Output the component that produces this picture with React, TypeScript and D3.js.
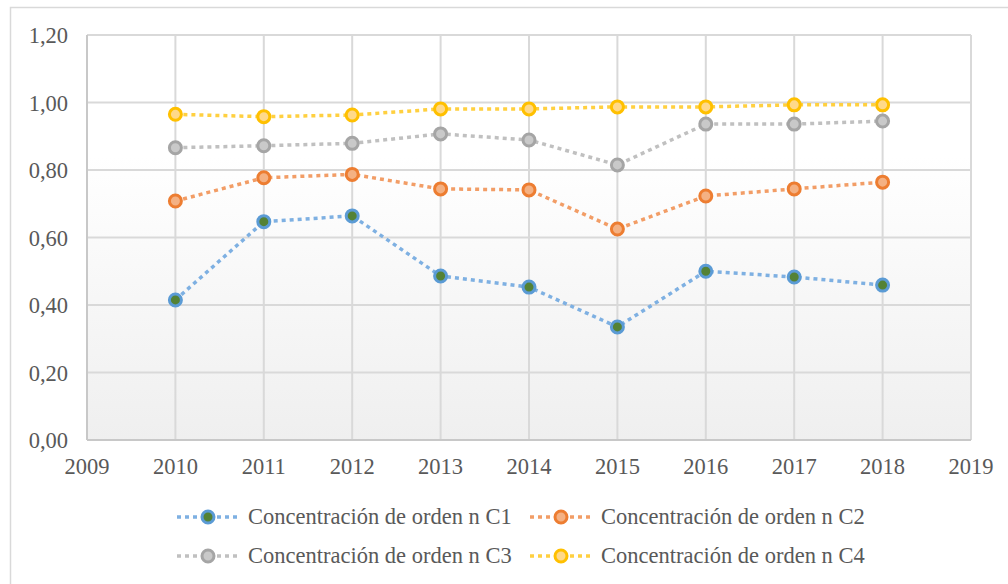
import { useEffect, useRef } from 'react';
import * as d3 from 'd3';

const WIDTH = 1008;
const HEIGHT = 584;
const PLOT = { left: 87, right: 971, top: 35, bottom: 440 };
const FONT = "'Liberation Serif', 'Times New Roman', 'DejaVu Serif', serif";
const FONT_SIZE = 22.5;

const YEARS = [2010, 2011, 2012, 2013, 2014, 2015, 2016, 2017, 2018];
const X_TICKS = [2009, 2010, 2011, 2012, 2013, 2014, 2015, 2016, 2017, 2018, 2019];
const Y_TICKS = [0, 0.2, 0.4, 0.6, 0.8, 1.0, 1.2];

const C1 = [0.415, 0.647, 0.664, 0.486, 0.453, 0.335, 0.5, 0.483, 0.459];
const C2 = [0.708, 0.777, 0.787, 0.744, 0.741, 0.625, 0.723, 0.744, 0.764];
const C3 = [0.866, 0.872, 0.879, 0.907, 0.889, 0.815, 0.936, 0.936, 0.945];
const C4 = [0.965, 0.958, 0.963, 0.981, 0.981, 0.987, 0.987, 0.993, 0.993];

const SERIES = [
  { label: 'Concentración de orden n C1', values: C1, line: '#7eb0e2', stroke: '#5b9bd5', fill: '#548235' },
  { label: 'Concentración de orden n C2', values: C2, line: '#f29d66', stroke: '#ed7d31', fill: '#f4b183' },
  { label: 'Concentración de orden n C3', values: C3, line: '#c0c0c0', stroke: '#a5a5a5', fill: '#c9c9c9' },
  { label: 'Concentración de orden n C4', values: C4, line: '#ffd040', stroke: '#ffc000', fill: '#ffd98a' },
];

export default function App() {
  const svgRef = useRef<SVGSVGElement | null>(null);

  useEffect(() => {
    const svgEl = svgRef.current;
    if (!svgEl) return;
    const svg = d3.select(svgEl);
    svg.selectAll('*').remove();

    const x = d3.scaleLinear().domain([2009, 2019]).range([PLOT.left, PLOT.right]);
    const y = d3.scaleLinear().domain([0, 1.2]).range([PLOT.bottom, PLOT.top]);

    // background + outer frame
    svg.append('rect').attr('width', WIDTH).attr('height', HEIGHT).attr('fill', '#ffffff');
    svg
      .append('rect')
      .attr('x', 10.5)
      .attr('y', 7.5)
      .attr('width', 1010)
      .attr('height', 600)
      .attr('fill', 'none')
      .attr('stroke', '#d9d9d9')
      .attr('stroke-width', 1.5);

    const defs = svg.append('defs');
    const grad = defs
      .append('linearGradient')
      .attr('id', 'plotbg')
      .attr('x1', 0)
      .attr('y1', 0)
      .attr('x2', 0)
      .attr('y2', 1);
    grad.append('stop').attr('offset', '0%').attr('stop-color', '#ffffff');
    grad.append('stop').attr('offset', '30%').attr('stop-color', '#ffffff');
    grad.append('stop').attr('offset', '100%').attr('stop-color', '#efefef');

    svg
      .append('rect')
      .attr('x', PLOT.left)
      .attr('y', PLOT.top)
      .attr('width', PLOT.right - PLOT.left)
      .attr('height', PLOT.bottom - PLOT.top)
      .attr('fill', 'url(#plotbg)');

    // ---- grid ----
    const grid = svg.append('g');
    grid
      .selectAll('line.h')
      .data(Y_TICKS)
      .join('line')
      .attr('class', 'h')
      .attr('x1', PLOT.left)
      .attr('x2', PLOT.right)
      .attr('y1', (d) => y(d))
      .attr('y2', (d) => y(d))
      .attr('stroke', '#d9d9d9')
      .attr('stroke-width', 2);
    grid
      .selectAll('line.v')
      .data(X_TICKS)
      .join('line')
      .attr('class', 'v')
      .attr('x1', (d) => x(d))
      .attr('x2', (d) => x(d))
      .attr('y1', PLOT.top)
      .attr('y2', PLOT.bottom)
      .attr('stroke', '#d9d9d9')
      .attr('stroke-width', 2);

    // axis lines
    svg
      .append('line')
      .attr('x1', PLOT.left)
      .attr('x2', PLOT.right)
      .attr('y1', PLOT.bottom)
      .attr('y2', PLOT.bottom)
      .attr('stroke', '#c8c8c8')
      .attr('stroke-width', 2);
    svg
      .append('line')
      .attr('x1', PLOT.left)
      .attr('x2', PLOT.left)
      .attr('y1', PLOT.top)
      .attr('y2', PLOT.bottom)
      .attr('stroke', '#c8c8c8')
      .attr('stroke-width', 2);

    // ---- tick labels ----
    const fmt = (d: number) => d.toFixed(2).replace('.', ',');
    svg
      .append('g')
      .selectAll('text')
      .data(Y_TICKS)
      .join('text')
      .attr('x', 68)
      .attr('y', (d) => y(d) + 8)
      .attr('text-anchor', 'end')
      .style('font-family', FONT)
      .attr('font-size', FONT_SIZE)
      .attr('fill', '#595959')
      .text(fmt);
    svg
      .append('g')
      .selectAll('text')
      .data(X_TICKS)
      .join('text')
      .attr('x', (d) => x(d))
      .attr('y', 474)
      .attr('text-anchor', 'middle')
      .style('font-family', FONT)
      .attr('font-size', FONT_SIZE)
      .attr('fill', '#595959')
      .text((d) => String(d));

    // ---- series ----
    const line = d3
      .line<number>()
      .x((_, i) => x(YEARS[i]))
      .y((d) => y(d));

    for (const s of SERIES) {
      svg
        .append('path')
        .datum(s.values)
        .attr('fill', 'none')
        .attr('stroke', s.line)
        .attr('stroke-width', 3.5)
        .attr('stroke-dasharray', '4 4')
        .attr('d', line);
    }
    for (const s of SERIES) {
      svg
        .append('g')
        .selectAll('circle')
        .data(s.values)
        .join('circle')
        .attr('cx', (_, i) => x(YEARS[i]))
        .attr('cy', (d) => y(d))
        .attr('r', 6)
        .attr('fill', s.fill)
        .attr('stroke', s.stroke)
        .attr('stroke-width', 3);
    }

    // ---- legend ----
    const legendPos = [
      { x: 177, y: 517 },
      { x: 530, y: 517 },
      { x: 177, y: 556 },
      { x: 530, y: 556 },
    ];
    SERIES.forEach((s, i) => {
      const p = legendPos[i];
      const g = svg.append('g').attr('transform', `translate(${p.x}, ${p.y})`);
      g.append('line')
        .attr('x1', 0)
        .attr('x2', 63)
        .attr('y1', 0)
        .attr('y2', 0)
        .attr('stroke', s.line)
        .attr('stroke-width', 3.5)
        .attr('stroke-dasharray', '4 4');
      g.append('circle')
        .attr('cx', 31)
        .attr('cy', 0)
        .attr('r', 6)
        .attr('fill', s.fill)
        .attr('stroke', s.stroke)
        .attr('stroke-width', 3);
      g.append('text')
        .attr('x', 71)
        .attr('y', 7)
        .style('font-family', FONT)
        .attr('font-size', FONT_SIZE)
        .attr('fill', '#595959')
        .text(s.label);
    });
  }, []);

  return (
    <svg
      ref={svgRef}
      width={WIDTH}
      height={HEIGHT}
      style={{ position: 'absolute', left: 0, top: 0, display: 'block' }}
    />
  );
}
